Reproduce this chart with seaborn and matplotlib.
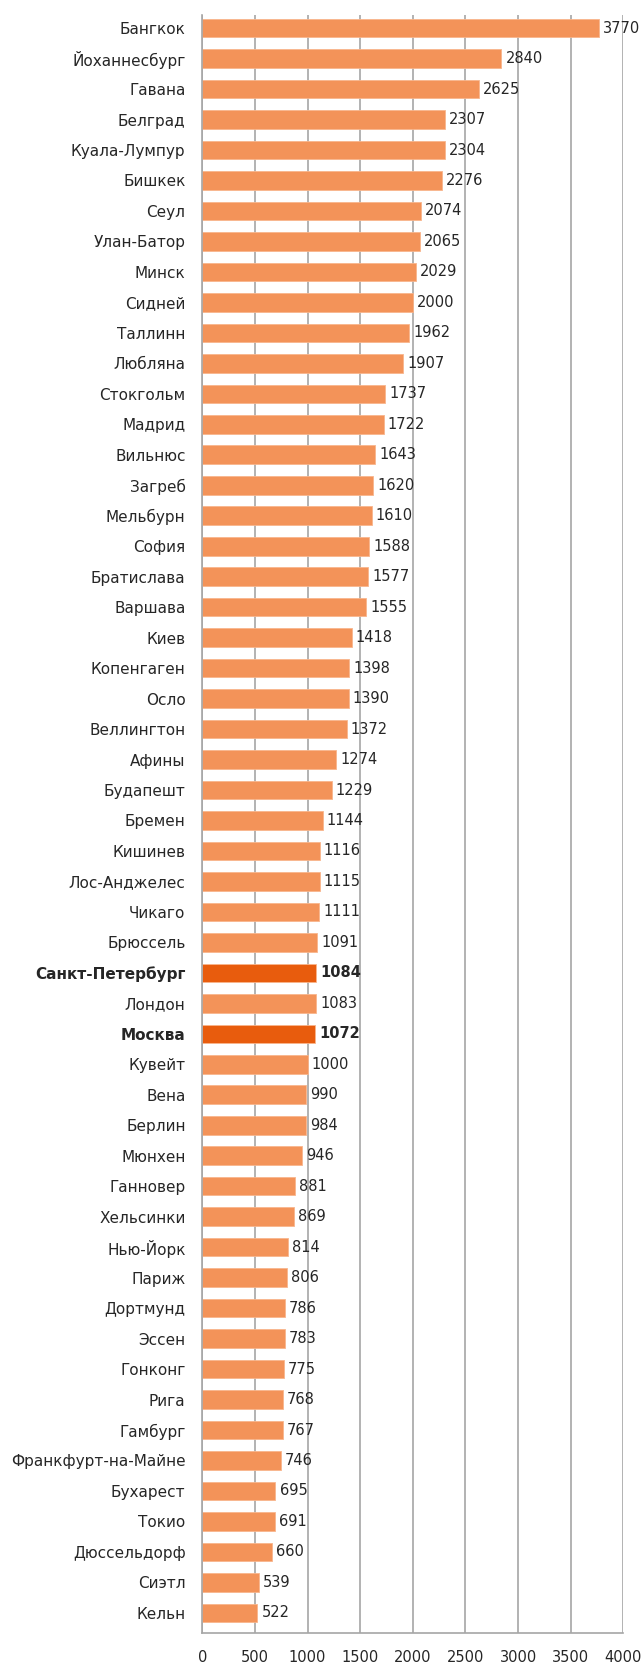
import pandas as pd
import matplotlib.pyplot as plt
import seaborn as sns

cities = ['Бангкок', 'Йоханнесбург', 'Гавана', 'Белград', 'Куала-Лумпур', 'Бишкек', 'Сеул',
          'Улан-Батор', 'Минск', 'Сидней', 'Таллинн', 'Любляна', 'Стокгольм', 'Мадрид',
          'Вильнюс', 'Загреб', 'Мельбурн', 'София', 'Братислава', 'Варшава', 'Киев',
          'Копенгаген', 'Осло', 'Веллингтон', 'Афины', 'Будапешт', 'Бремен', 'Кишинев',
          'Лос-Анджелес', 'Чикаго', 'Брюссель', 'Санкт-Петербург', 'Лондон', 'Москва',
          'Кувейт', 'Вена', 'Берлин', 'Мюнхен', 'Ганновер', 'Хельсинки', 'Нью-Йорк',
          'Париж', 'Дортмунд', 'Эссен', 'Гонконг', 'Рига', 'Гамбург', 'Франкфурт-на-Майне',
          'Бухарест', 'Токио', 'Дюссельдорф', 'Сиэтл', 'Кельн']
values = [3770, 2840, 2625, 2307, 2304, 2276, 2074, 2065, 2029, 2000, 1962, 1907, 1737, 1722,
          1643, 1620, 1610, 1588, 1577, 1555, 1418, 1398, 1390, 1372, 1274, 1229, 1144, 1116,
          1115, 1111, 1091, 1084, 1083, 1072, 1000, 990, 984, 946, 881, 869, 814,
          806, 786, 783, 775, 768, 767, 746, 695, 691, 660, 539, 522]
highlight = ['Санкт-Петербург', 'Москва']
x_ticks = [0, 500, 1000, 1500, 2000, 2500, 3000, 3500, 4000]

sns.set_style('white')
plt.rcParams['font.family'] = ['DejaVu Sans']

df = pd.DataFrame({'город': cities, 'значение': values})
palette = {c: ('#E85C0D' if c in highlight else '#F39359') for c in cities}

fig = plt.figure(figsize=(6.44, 16.68), dpi=100)
ax = fig.add_axes([0.314, 0.021, 0.654, 0.970])
sns.barplot(data=df, x='значение', y='город', hue='город', palette=palette, legend=False,
            orient='h', width=0.61, saturation=1, ax=ax,
            edgecolor='#F8B58C', linewidth=0.6, zorder=2)

ax.set_xlim(0, 4000)
ax.set_ylim(len(cities) - 0.34, -0.43)
ax.set_xticks(x_ticks)
ax.set_xticklabels([str(t) for t in x_ticks], fontsize=10.5)
ax.tick_params(axis='x', length=0, pad=12)
ax.tick_params(axis='y', length=0, pad=12, labelsize=11)
ax.set_xlabel('')
ax.set_ylabel('')
ax.grid(axis='x', color='#A6A6A6', linewidth=1.2, zorder=0)
ax.set_axisbelow(True)
for side in ['top', 'right']:
    ax.spines[side].set_visible(False)
for side in ['left', 'bottom']:
    ax.spines[side].set_color('#A6A6A6')
    ax.spines[side].set_linewidth(1.2)

# выделенные города жирным
for label in ax.get_yticklabels():
    if label.get_text() in highlight:
        label.set_fontweight('bold')

# подписи значений (один контейнер на город)
for container, city in zip(ax.containers, cities):
    texts = ax.bar_label(container, fmt='%d', padding=3, fontsize=10.5)
    if city in highlight:
        for t in texts:
            t.set_fontweight('bold')

fig.savefig('out.png', dpi=100)
